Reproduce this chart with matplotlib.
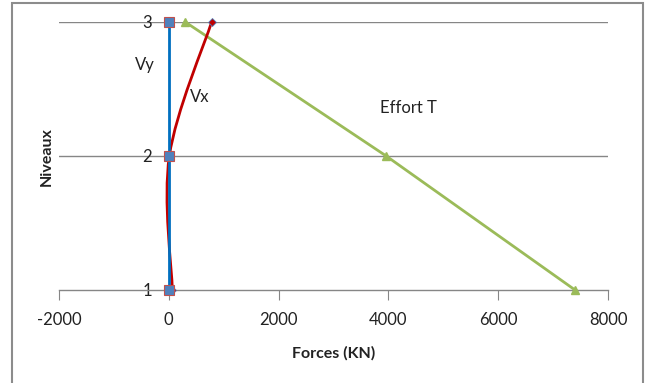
import matplotlib
matplotlib.use("Agg")
import matplotlib.pyplot as plt
from matplotlib.path import Path
from matplotlib.patches import PathPatch, Rectangle
import numpy as np

plt.rcParams['font.family'] = ['Lato', 'DejaVu Sans']
plt.rcParams['axes.unicode_minus'] = False

levels = [1, 2, 3]
vy = [0, 0, 0]
vx = [65, 10, 780]
effort_t = [7400, 3960, 300]
xticks = [-2000, 0, 2000, 4000, 6000, 8000]
yticks = [1, 2, 3]

W, H = 650, 383
fig = plt.figure(figsize=(W / 100, H / 100), dpi=100)
ax = fig.add_axes([59 / W, 1 - 290 / H, (608 - 59) / W, (290 - 22) / H])
ax.set_xlim(-2000, 8000)
ax.set_ylim(1, 3)

grey = '#868686'
for y in [2, 3]:
    ax.axhline(y, color=grey, lw=1.0, zorder=1)

for s in ['top', 'right']:
    ax.spines[s].set_visible(False)
ax.spines['bottom'].set_color(grey)
ax.spines['bottom'].set_position(('data', 1))
ax.spines['left'].set_position(('data', 0))
ax.spines['left'].set_color(grey)
ax.spines['bottom'].set_linewidth(1.0)

ax.set_xticks(xticks)
ax.set_yticks(yticks)
ax.tick_params(axis='x', direction='out', length=7, color=grey, labelsize=12, pad=9, labelcolor='#222222')
ax.tick_params(axis='y', direction='out', length=0, color=grey, labelsize=12, pad=12, labelcolor='#222222')

# Effort T (straight)
ax.plot(effort_t, levels, color='#9BBB59', lw=2, marker='^', ms=6, mfc='#9BBB59', mec='#9BBB59', zorder=3, clip_on=False)

# Vx smoothed (Excel-like Bezier)
pts = np.array(list(zip(vx, levels)), dtype=float)
n = len(pts)
verts = [tuple(pts[0])]
codes = [Path.MOVETO]
for i in range(n - 1):
    pm = pts[i - 1] if i > 0 else pts[i]
    p0 = pts[i]
    p1 = pts[i + 1]
    p2 = pts[i + 2] if i + 2 < n else pts[i + 1]
    c1 = p0 + (p1 - pm) / 6
    c2 = p1 - (p2 - p0) / 6
    verts += [tuple(c1), tuple(c2), tuple(p1)]
    codes += [Path.CURVE4] * 3
ax.add_patch(PathPatch(Path(verts, codes), fill=False, edgecolor='#C00000', lw=2, zorder=4, clip_on=False))
ax.plot(vx, levels, ls='none', marker='D', ms=4, mfc='#C00000', mec='#4F81BD', mew=0.6, zorder=5, clip_on=False)

# Vy
ax.plot(vy, levels, color='#0070C0', lw=2, marker='s', ms=7, mfc='#4F81BD', mec='#C0504D', mew=0.8, zorder=6, clip_on=False)

ax.text(-435, 2.68, 'Vy', fontsize=12, ha='center', va='center', color='#222222')
ax.text(570, 2.44, 'Vx', fontsize=12, ha='center', va='center', color='#222222')
ax.text(4370, 2.36, 'Effort T', fontsize=12, ha='center', va='center', color='#222222')

ax.set_xlabel('Forces (KN)', fontsize=11.5, fontweight='bold', labelpad=13, color='#222222')
fig.text(47 / W, 1 - 157 / H, 'Niveaux', rotation=90, fontsize=11.5, fontweight='bold', ha='center', va='center', color='#222222')

fig.patches.append(Rectangle((12 / W, -0.05), (643 - 12) / W, 1.05 - 3 / H, transform=fig.transFigure,
                             fill=False, edgecolor='#8C8C8C', lw=1.5))

fig.savefig('out.png', dpi=100)
